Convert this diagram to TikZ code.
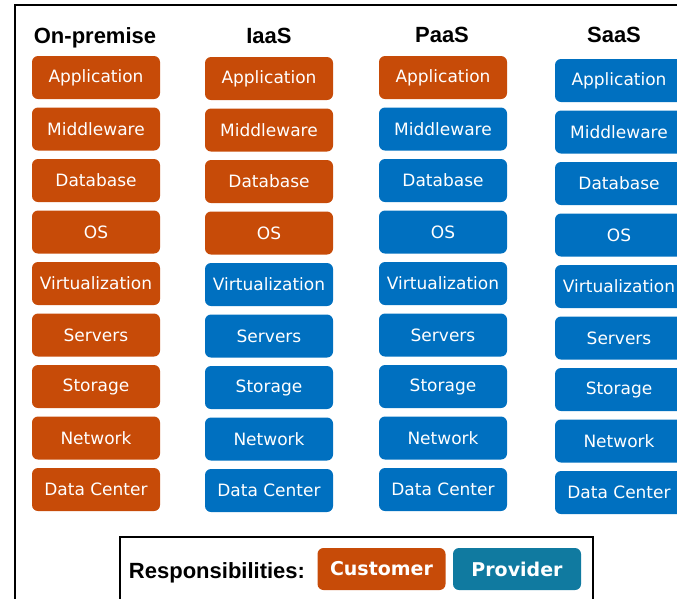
\documentclass[tikz,border=0pt]{standalone}
\usepackage{fontspec}
\newfontfamily\boxfont{DejaVu Sans}
\newfontfamily\headfont{Liberation Sans}
\definecolor{custorange}{RGB}{199,75,8}
\definecolor{provblue}{RGB}{0,112,192}
\definecolor{legendteal}{RGB}{16,122,160}

\begin{document}
\begin{tikzpicture}[x=1pt, y=1pt,
    layer/.style={rectangle, rounded corners=6pt, minimum width=128pt, minimum height=43pt,
        inner sep=0pt, text=white, font=\boxfont\fontsize{17}{20}\selectfont},
    head/.style={anchor=base, font=\headfont\bfseries\fontsize{22}{26}\selectfont},
    tag/.style={rectangle, rounded corners=6pt, minimum width=128pt, minimum height=42pt,
        inner sep=0pt, text=white, font=\boxfont\bfseries\fontsize{19}{22}\selectfont}]
        \clip (0, 0) rectangle (677, -598);

        % Frames
        \draw[line width=2pt] (15, -700) -- (15, -5) -- (800, -5);
        \draw[line width=1.5pt] (120, -700) rectangle (593, -537);

        % Headers
        \node[head] (onprem-head) at (95, -43) {On-premise};
        \node[head] (iaas-head) at (269, -43) {IaaS};
        \node[head] (paas-head) at (442, -42) {PaaS};
        \node[head] (saas-head) at (614, -42) {SaaS};

        % Stacks: the first \nc layers are run by the customer
        \foreach \col/\x/\y/\nc in {onprem/96/77.5/9, iaas/269/78.5/4, paas/443/77.5/1, saas/619/80.5/0} {
            \foreach \lay/\txt [count=\i from 0] in {app/Application, mid/Middleware, db/Database,
                    os/OS, virt/Virtualization, srv/Servers, sto/Storage, net/Network, dc/Data Center} {
                \ifnum\i<\nc \def\fillc{custorange}\else\def\fillc{provblue}\fi
                \node[layer, fill=\fillc] (\col-\lay) at (\x, -\y-51.5*\i) {\txt};
            }
        }

        % Legend
        \node[anchor=base, font=\headfont\bfseries\fontsize{22}{26}\selectfont] (resp) at (217, -578) {Responsibilities:};
        \node[tag, fill=custorange] (cust) at (381.5, -569) {Customer};
        \node[tag, fill=legendteal] (prov) at (517, -569) {Provider};
    \end{tikzpicture}
\end{document}
